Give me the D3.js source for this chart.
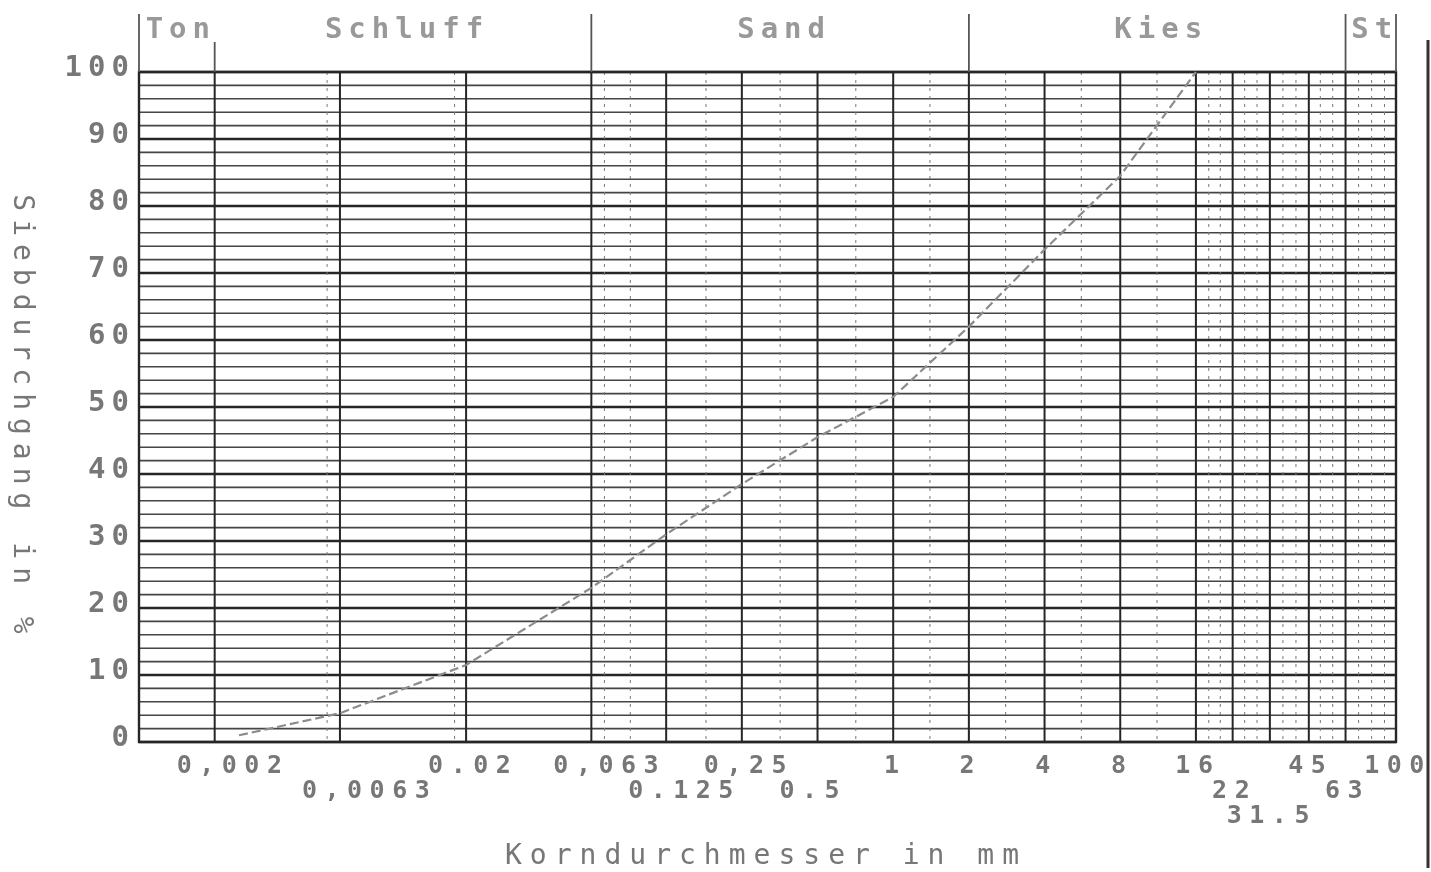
<!DOCTYPE html>
<html>
<head>
<meta charset="utf-8">
<script src="https://cdn.jsdelivr.net/npm/d3@7"></script>
<style>
  html, body { margin: 0; padding: 0; background: #fff; }
  svg text { font-family: "DejaVu Sans Mono", "Liberation Mono", monospace; }
</style>
</head>
<body>
<svg id="chart" width="1431" height="872"></svg>
<script>
// Sieblinie (grain size distribution)

// sieve sizes in mm and passing in %
const sieveSizes = [0.0025, 0.0063, 0.02, 0.063, 0.125, 0.25, 0.5, 1, 2, 4, 8, 16]
const passing    = [1, 4.3, 11.5, 23, 31, 38.5, 45.5, 51.5, 62, 73.5, 84.5, 100]

// labelled grid sizes, their text and the row they are printed in
const tickValues = [0.002, 0.0063, 0.02, 0.063, 0.125, 0.25, 0.5, 1, 2, 4, 8, 16, 22.4, 31.5, 45, 63, 100]
const tickLabels = ['0,002', '0,0063', '0.02', '0,063', '0.125', '0,25', '0.5', '1', '2', '4', '8', '16', '22', '31.5', '45', '63', '100']
const tickRows   = [0, 1, 0, 0, 1, 0, 1, 0, 0, 0, 0, 0, 1, 2, 0, 1, 0]

// unlabelled dotted grid sizes
const minorSizes = [0.0056, 0.018, 0.071, 0.09, 0.18, 0.355, 0.71, 1.4, 2.8, 5.6, 11.2, 18, 20, 25, 28, 35.5, 40, 50, 56, 71, 80, 90]

// soil classes across the top band
const bandNames = ['Ton', 'Schluff', 'Sand', 'Kies', 'St']
const bandEdges = [0.001, 0.002, 0.063, 2, 63, 100]

const yTicks = [0, 10, 20, 30, 40, 50, 60, 70, 80, 90, 100]
const yMinor = d3.range(0, 101, 2)

const svg = d3.select('#chart')

const x = d3.scaleLog().domain([0.001, 100]).range([139, 1396])
const y = d3.scaleLinear().domain([0, 100]).range([742, 72])

svg.append('defs').append('filter').attr('id', 'soft')
  .append('feGaussianBlur').attr('stdDeviation', 0.5)

const g = svg.append('g').attr('filter', 'url(#soft)')

// horizontal grid
g.append('g').selectAll('line')
  .data(yMinor)
  .join('line')
  .attr('x1', x.range()[0]).attr('x2', x.range()[1])
  .attr('y1', d => y(d)).attr('y2', d => y(d))
  .attr('stroke', d => d % 10 === 0 ? '#262626' : '#444')
  .attr('stroke-width', d => d % 10 === 0 ? 2.6 : 1.6)

// dotted vertical grid
g.append('g').selectAll('line')
  .data(minorSizes)
  .join('line')
  .attr('x1', d => x(d)).attr('x2', d => x(d))
  .attr('y1', y(100)).attr('y2', y(0))
  .attr('stroke', '#777')
  .attr('stroke-width', 1)
  .attr('stroke-dasharray', '3,5')

// main vertical grid
g.append('g').selectAll('line')
  .data(tickValues)
  .join('line')
  .attr('x1', d => x(d)).attr('x2', d => x(d))
  .attr('y1', y(100)).attr('y2', y(0))
  .attr('stroke', '#262626')
  .attr('stroke-width', 2)

// frame
g.append('rect')
  .attr('x', x.range()[0]).attr('y', y(100))
  .attr('width', x.range()[1] - x.range()[0])
  .attr('height', y(0) - y(100))
  .attr('fill', 'none').attr('stroke', '#262626').attr('stroke-width', 2.4)

// top band separators and names
g.append('g').selectAll('line')
  .data(bandEdges)
  .join('line')
  .attr('x1', d => x(d)).attr('x2', d => x(d))
  .attr('y1', (d, i) => i === 1 ? 42 : 14).attr('y2', y(100))
  .attr('stroke', '#555').attr('stroke-width', 1.8)

g.append('g').selectAll('text')
  .data(bandNames)
  .join('text')
  .attr('x', (d, i) => (x(bandEdges[i]) + x(bandEdges[i + 1])) / 2 + 4)
  .attr('y', 38)
  .attr('text-anchor', 'middle')
  .attr('font-size', 29)
  .attr('font-weight', 'bold')
  .attr('letter-spacing', 6)
  .attr('fill', '#999')
  .text(d => d)

// y tick labels
g.append('g').selectAll('text')
  .data(yTicks)
  .join('text')
  .attr('x', 135)
  .attr('y', d => y(d) - 6)
  .attr('dy', '0.35em')
  .attr('text-anchor', 'end')
  .attr('font-size', 29)
  .attr('font-weight', 'bold')
  .attr('letter-spacing', 6)
  .attr('fill', '#777')
  .text(d => d)

// x tick labels
g.append('g').selectAll('text')
  .data(tickValues)
  .join('text')
  .attr('x', (d, i) => tickLabels[i].startsWith('0') ? x(d) - 38 : x(d) + 2)
  .attr('y', (d, i) => 773 + tickRows[i] * 25)
  .attr('text-anchor', (d, i) => tickLabels[i].startsWith('0') ? 'start' : 'middle')
  .attr('font-size', 25)
  .attr('font-weight', 'bold')
  .attr('letter-spacing', 7.5)
  .attr('fill', '#777')
  .text((d, i) => tickLabels[i])

// axis titles
g.append('text')
  .attr('x', 766).attr('y', 864)
  .attr('text-anchor', 'middle')
  .attr('font-size', 28)
  .attr('letter-spacing', 8)
  .attr('fill', '#777')
  .text('Korndurchmesser in mm')

g.append('text')
  .attr('transform', 'translate(14,418) rotate(90)')
  .attr('text-anchor', 'middle')
  .attr('font-size', 28)
  .attr('letter-spacing', 8)
  .attr('fill', '#777')
  .text('Siebdurchgang in %')

// grading curve
const line = d3.line()
  .x((d, i) => x(sieveSizes[i]))
  .y(d => y(d))

g.append('path')
  .datum(passing)
  .attr('d', line)
  .attr('fill', 'none')
  .attr('stroke', '#8c8c8c')
  .attr('stroke-width', 2.2)
  .attr('stroke-dasharray', '9,4')

// scan edge on the right
g.append('line')
  .attr('x1', 1428).attr('x2', 1428).attr('y1', 40).attr('y2', 868)
  .attr('stroke', '#333').attr('stroke-width', 3)
</script>
</body>
</html>
